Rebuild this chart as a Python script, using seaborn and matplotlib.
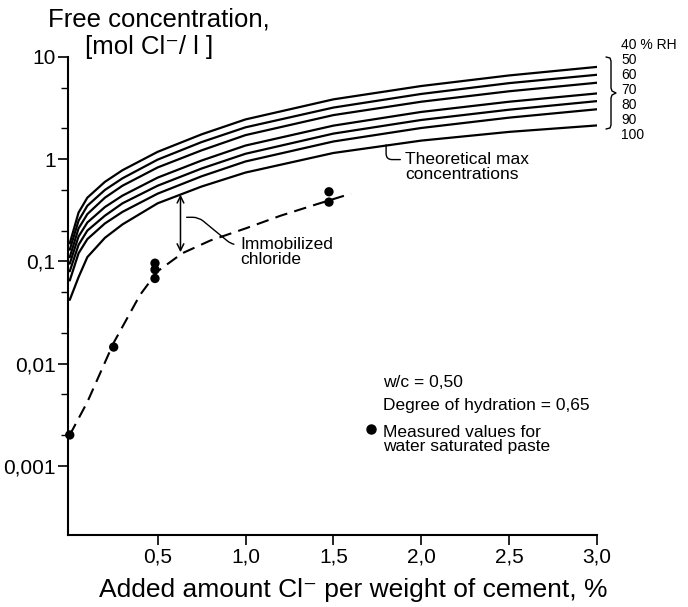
"""
Free chloride concentration vs added chloride in cement paste
Theoretical max concentrations for several RH levels plus measured values
"""

import matplotlib
matplotlib.use("Agg")
import matplotlib.pyplot as plt
from matplotlib.lines import Line2D
from matplotlib.ticker import FixedLocator, NullFormatter
import pandas as pd
import seaborn as sns

# Theoretical max free concentration [mol Cl-/l], one curve per RH level
added = [0, 0.05, 0.1, 0.2, 0.3, 0.5, 0.75, 1.0, 1.5, 2.0, 2.5, 3.0]
rh_levels = [40, 50, 60, 70, 80, 90, 100]
conc_rh40 = [0.15, 0.30, 0.42, 0.60, 0.78, 1.18, 1.75, 2.45, 3.85, 5.2, 6.6, 8.0]
conc_rh50 = [0.13, 0.25, 0.35, 0.50, 0.65, 0.99, 1.47, 2.05, 3.2, 4.35, 5.55, 6.7]
conc_rh60 = [0.11, 0.21, 0.29, 0.42, 0.55, 0.83, 1.22, 1.72, 2.7, 3.65, 4.62, 5.6]
conc_rh70 = [0.095, 0.175, 0.24, 0.34, 0.44, 0.66, 0.97, 1.36, 2.13, 2.9, 3.65, 4.4]
conc_rh80 = [0.08, 0.145, 0.20, 0.28, 0.37, 0.55, 0.81, 1.13, 1.78, 2.42, 3.05, 3.7]
conc_rh90 = [0.065, 0.12, 0.165, 0.235, 0.305, 0.46, 0.68, 0.95, 1.49, 2.02, 2.55, 3.08]
conc_rh100 = [0.042, 0.07, 0.11, 0.17, 0.23, 0.37, 0.54, 0.74, 1.15, 1.52, 1.85, 2.14]

# Dashed curve through the measured values
fit_added = [0, 0.1, 0.25, 0.4, 0.5, 0.64, 0.8, 1.0, 1.2, 1.4, 1.6]
fit_conc = [0.002, 0.0042, 0.016, 0.047, 0.08, 0.12, 0.16, 0.21, 0.28, 0.36, 0.46]

# Measured values for water saturated paste
meas_added = [0.0, 0.25, 0.485, 0.485, 0.485, 1.475, 1.475]
meas_conc = [0.002, 0.0145, 0.096, 0.083, 0.068, 0.48, 0.38]

x_ticks = [0.5, 1.0, 1.5, 2.0, 2.5, 3.0]
x_ticklabels = ["0,5", "1,0", "1,5", "2,0", "2,5", "3,0"]
y_ticks = [0.001, 0.01, 0.1, 1, 10]
y_ticklabels = ["0,001", "0,01", "0,1", "1", "10"]
y_minor = [0.002, 0.005, 0.02, 0.05, 0.2, 0.5, 2, 5]
rh_labels = ["40 % RH", "50", "60", "70", "80", "90", "100"]

# long table for seaborn
curves = [conc_rh40, conc_rh50, conc_rh60, conc_rh70, conc_rh80, conc_rh90, conc_rh100]
theory = pd.DataFrame(
    [(rh, x, c) for rh, vals in zip(rh_levels, curves) for x, c in zip(added, vals)],
    columns=["rh", "added", "conc"],
)
fit = pd.DataFrame({"added": fit_added, "conc": fit_conc})
measured = pd.DataFrame({"added": meas_added, "conc": meas_conc})

sns.set_theme(style="ticks")
plt.rcParams["font.family"] = ["Liberation Sans", "DejaVu Sans"]
plt.rcParams["text.color"] = "black"
plt.rcParams["axes.labelcolor"] = "black"
plt.rcParams["xtick.color"] = "black"
plt.rcParams["ytick.color"] = "black"

W, H = 688, 607


def px(x, y):
    """pixel position (from top-left) -> figure fraction"""
    return x / W, 1 - y / H


fig = plt.figure(figsize=(W / 100, H / 100), dpi=100)
ax = fig.add_axes([68 / W, 1 - 535 / H, (597 - 68) / W, (535 - 57) / H])

sns.lineplot(data=theory, x="added", y="conc", units="rh", estimator=None,
             color="black", lw=1.6, ax=ax, legend=False)
sns.lineplot(data=fit, x="added", y="conc", color="black", lw=1.5,
             dashes=False, ax=ax, legend=False)
ax.lines[-1].set_linestyle((0, (6, 3.5)))
sns.scatterplot(data=measured, x="added", y="conc", color="black", s=45,
                edgecolor="none", ax=ax, zorder=5, clip_on=False)

ax.set_yscale("log")
ax.set_xlim(-0.01, 3.0)
ax.set_ylim(2.1e-4, 10)
ax.set_xticks(x_ticks)
ax.set_xticklabels(x_ticklabels)
ax.set_yticks(y_ticks)
ax.set_yticklabels(y_ticklabels)
ax.yaxis.set_minor_locator(FixedLocator(y_minor))
ax.yaxis.set_minor_formatter(NullFormatter())
ax.xaxis.set_minor_locator(FixedLocator([]))
ax.set_xlabel("")
ax.set_ylabel("")

sns.despine(ax=ax)
for side in ["left", "bottom"]:
    ax.spines[side].set_linewidth(1.5)
    ax.spines[side].set_color("black")
ax.tick_params(axis="both", which="major", direction="out", length=7,
               width=1.2, labelsize=15, pad=2)
ax.tick_params(axis="y", which="minor", direction="out", length=5, width=1.0)

# axis titles
fig.text(*px(159, 20), "Free concentration,", fontsize=18.5, ha="center", va="center")
fig.text(*px(149, 47), "[mol Cl\u207b/ l ]", fontsize=18.5, ha="center", va="center")
fig.text(*px(353, 590), "Added amount Cl\u207b per weight of cement, %",
         fontsize=19, ha="center", va="center")

# immobilized chloride arrow
ax.annotate("", xy=(0.63, 0.45), xytext=(0.63, 0.123),
            arrowprops=dict(arrowstyle="<->", lw=1.1, color="black",
                            shrinkA=0, shrinkB=0, mutation_scale=12))
ax.annotate("Immobilized\nchloride", xy=(0.665, 0.27), xytext=(0.325, 0.592),
            textcoords="axes fraction", fontsize=12.5, ha="left", va="center",
            linespacing=0.95,
            arrowprops=dict(arrowstyle="-", lw=1.0, color="black", relpos=(0, 0.75),
                            connectionstyle="arc,angleA=180,armA=8,angleB=0,armB=12,rad=6",
                            shrinkA=2, shrinkB=0))

ax.annotate("Theoretical max\nconcentrations", xy=(1.8, 1.38), xytext=(0.637, 0.77),
            textcoords="axes fraction", fontsize=12.5, ha="left", va="center",
            linespacing=0.95,
            arrowprops=dict(arrowstyle="-", lw=1.0, color="black", relpos=(0, 0.75),
                            connectionstyle="angle,angleA=180,angleB=-90,rad=6",
                            shrinkA=1, shrinkB=0))

# notes
ax.text(0.595, 0.318, "w/c = 0,50", transform=ax.transAxes, fontsize=12.5, va="center")
ax.text(0.595, 0.270, "Degree of hydration = 0,65", transform=ax.transAxes,
        fontsize=12.5, va="center")
ax.text(0.595, 0.200, "Measured values for\nwater saturated paste",
        transform=ax.transAxes, fontsize=12.5, va="center", linespacing=0.95)
ax.plot([0.573], [0.222], "o", color="black", ms=6.5, transform=ax.transAxes,
        clip_on=False)

# RH labels with brace
rh_y = [45, 60, 75, 90, 105, 120, 135]
for lab, y in zip(rh_labels, rh_y):
    fig.text(*px(621, y), lab, fontsize=10, ha="left", va="center")
brace = [(606, 57), (610, 58), (611, 61), (611, 88), (612, 91), (616, 93),
         (612, 95), (611, 98), (611, 125), (610, 128), (606, 129)]
bx, by = zip(*[px(x, y) for x, y in brace])
fig.add_artist(Line2D(bx, by, color="black", lw=1.0, transform=fig.transFigure))

fig.savefig("out.png", dpi=100)
